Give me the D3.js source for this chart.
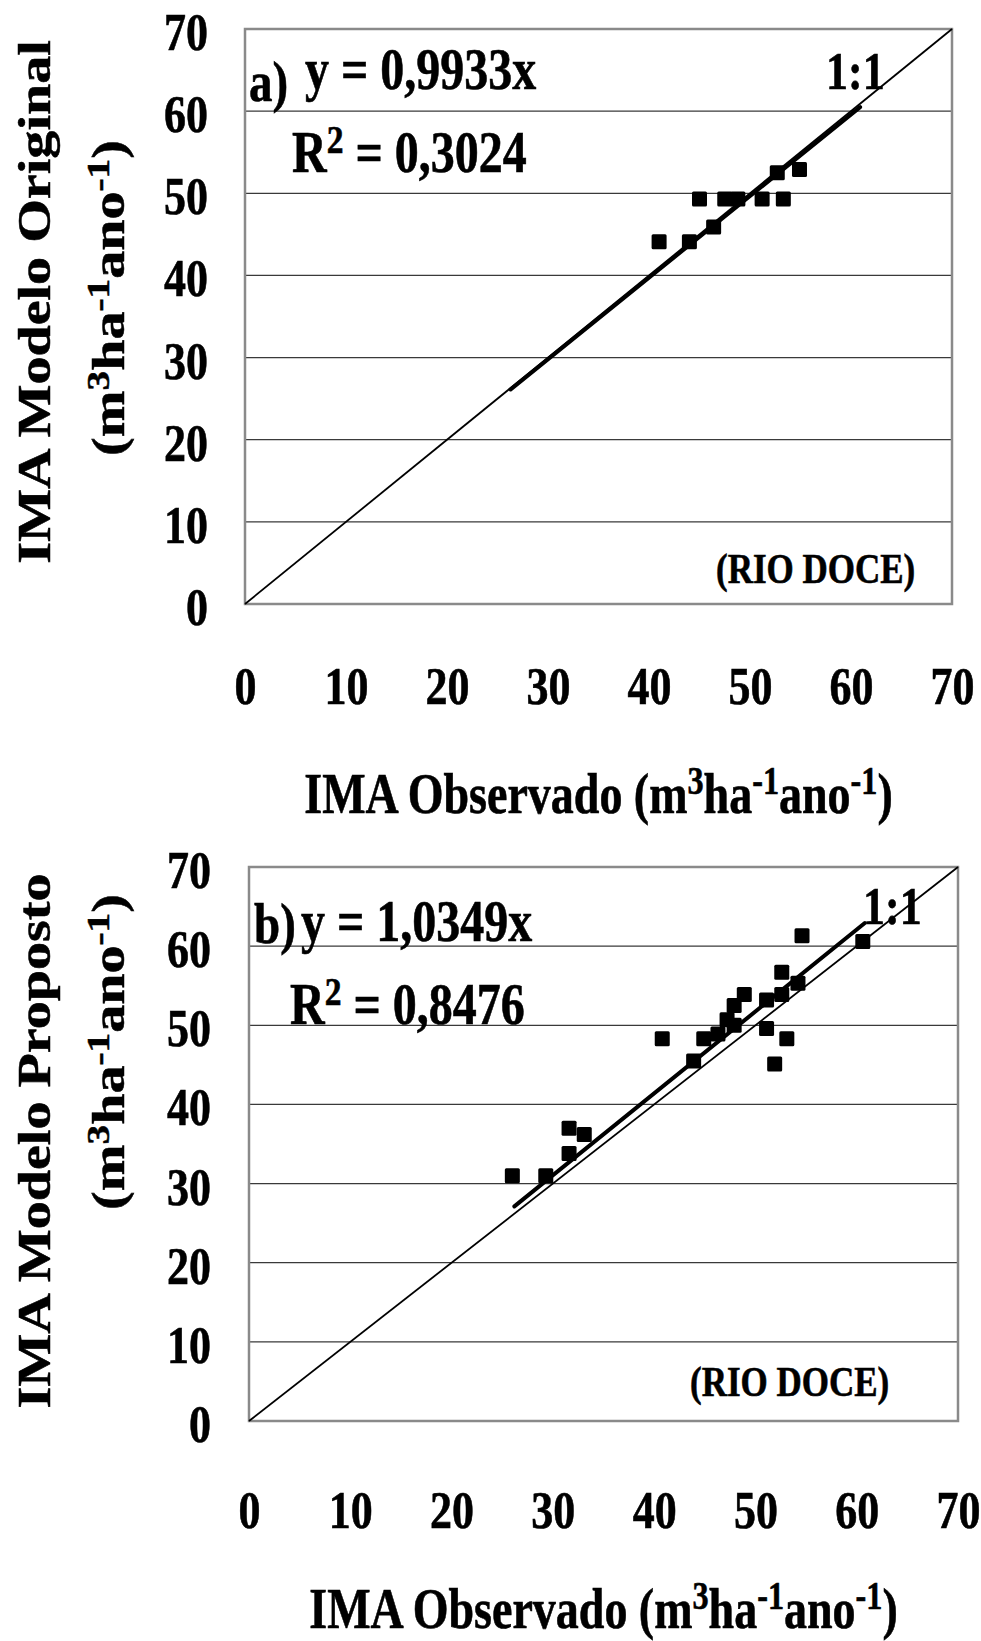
<!DOCTYPE html>
<html>
<head>
<meta charset="utf-8">
<script src="https://cdn.jsdelivr.net/npm/d3@7"></script>
<style>
  body { margin: 0; background: #fff; }
  svg text { font-family: "Liberation Serif", "Times New Roman", serif; font-weight: bold;
             stroke: #000; stroke-width: 0.5px; }
</style>
</head>
<body>
<div id="chart"></div>
<script>
// tick values, same on both axes of both panels
var ticks = [0, 10, 20, 30, 40, 50, 60, 70];

// a) Modelo Original x observado (Rio Doce)
var obsA  = [41.0, 44.0, 46.4, 45.0, 47.5, 48.8, 51.2, 53.3, 52.7, 54.9];
var predA = [44.1, 44.1, 45.9, 49.3, 49.3, 49.3, 49.3, 49.3, 52.5, 52.9];
var slopeA = 0.9933;
var r2A = "0,3024";
var trendA = [26.3, 60.9];

// b) Modelo Proposto x observado (Rio Doce)
var obsB  = [26.0, 29.3, 31.6, 33.1, 31.6, 40.8, 43.9, 44.9, 46.3, 47.2, 47.9,
             47.9, 48.9, 51.1, 51.1, 51.9, 53.1, 52.6, 52.6, 54.2, 54.6, 60.6];
var predB = [31.0, 31.0, 37.0, 36.2, 33.8, 48.3, 45.5, 48.3, 48.9, 50.7, 52.5,
             50.0, 53.9, 53.2, 49.6, 45.1, 48.3, 53.9, 56.7, 55.3, 61.3, 60.6];
var slopeB = 1.0349;
var r2B = "0,8476";
var trendB = [26.2, 60.8];

// the source picture is stretched vertically, so text looks tall and narrow
var K = 1.22;

var svg = d3.select("#chart").append("svg")
    .attr("width", 981)
    .attr("height", 1641);

// text placed at (x,y) with the vertical stretch, optionally rotated
function stretched(g, x, y, rotate) {
    return g.append("text")
        .attr("transform", "translate(" + x + "," + y + ") scale(1," + K + ")" + (rotate ? " rotate(-90)" : ""));
}

// parts: [text, isSuperscript] pairs
function addParts(text, parts, size) {
    var up = 0.33 * size;
    var raised = false;
    text.attr("font-size", size);
    parts.forEach(function(p) {
        var ts = text.append("tspan").text(p[0]);
        if (p[1]) {
            ts.attr("font-size", size * 0.7);
            if (!raised) ts.attr("dy", -up);
            raised = true;
        } else if (raised) {
            ts.attr("dy", up);
            raised = false;
        }
    });
    return text;
}

var unitParts = [["(m", 0], ["3", 1], ["ha", 0], ["-1", 1], ["ano", 0], ["-1", 1], [")", 0]];

function drawPanel(p) {
    var x = d3.scaleLinear().domain([0, 70]).range([p.left, p.right]);
    var y = d3.scaleLinear().domain([0, 70]).range([p.bottom, p.top]);
    var g = svg.append("g");

    // gridlines
    g.selectAll("line.grid")
        .data(ticks.slice(1, -1))
        .enter()
        .append("line")
        .attr("class", "grid")
        .attr("x1", p.left)
        .attr("x2", p.right)
        .attr("y1", function(d) { return y(d); })
        .attr("y2", function(d) { return y(d); })
        .attr("stroke", "#3a3a3a")
        .attr("stroke-width", 1.2);

    // frame
    g.append("rect")
        .attr("x", p.left)
        .attr("y", p.top)
        .attr("width", p.right - p.left)
        .attr("height", p.bottom - p.top)
        .attr("fill", "none")
        .attr("stroke", "#8a8a8a")
        .attr("stroke-width", 2.5);

    // 1:1 line
    g.append("line")
        .attr("x1", x(0)).attr("y1", y(0))
        .attr("x2", x(70)).attr("y2", y(70))
        .attr("stroke", "#000")
        .attr("stroke-width", 1.8);

    // fitted line y = b*x
    g.append("line")
        .attr("x1", x(p.trend[0])).attr("y1", y(p.slope * p.trend[0]))
        .attr("x2", x(p.trend[1])).attr("y2", y(p.slope * p.trend[1]))
        .attr("stroke", "#000")
        .attr("stroke-width", 4)
        .attr("stroke-linecap", "round");

    // points
    var s = 15;
    g.selectAll("rect.pt")
        .data(p.obs.map(function(d, i) { return [d, p.pred[i]]; }))
        .enter()
        .append("rect")
        .attr("class", "pt")
        .attr("x", function(d) { return x(d[0]) - s / 2; })
        .attr("y", function(d) { return y(d[1]) - s / 2; })
        .attr("width", s)
        .attr("height", s)
        .attr("rx", 1.5)
        .attr("fill", "#000");

    // x axis labels
    var xa = g.append("g")
        .attr("transform", "translate(0," + p.bottom + ")")
        .call(d3.axisBottom(x).tickValues(ticks).tickSize(0));
    xa.select(".domain").remove();
    xa.selectAll("text")
        .attr("y", null).attr("dy", null)
        .attr("font-size", 44)
        .attr("fill", "#000")
        .attr("transform", "translate(0," + p.xTickDy + ") scale(1," + K + ")");

    // y axis labels
    var ya = g.append("g")
        .attr("transform", "translate(" + p.left + ",0)")
        .call(d3.axisLeft(y).tickValues(ticks).tickSize(0));
    ya.select(".domain").remove();
    ya.selectAll("text")
        .attr("x", null).attr("dy", null)
        .attr("font-size", 44)
        .attr("fill", "#000")
        .attr("transform", "translate(" + (p.yTickX - p.left) + ",20.5) scale(1," + K + ")");

    // annotations
    stretched(g, p.tag[0], p.tag[1]).attr("font-size", 47).text(p.tagText);
    stretched(g, p.eq[0], p.eq[1]).attr("font-size", 48).text("y = " + p.eqText + "x");
    addParts(stretched(g, p.r2[0], p.r2[1]), [["R", 0], ["2", 1], [" = " + p.r2Text, 0]], 48);
    stretched(g, p.one[0], p.one[1]).attr("font-size", 44).text("1:1");
    stretched(g, p.rio[0], p.rio[1]).attr("font-size", 35).text("(RIO DOCE)");

    // axis titles
    addParts(stretched(g, (p.left + p.right) / 2, p.xTitleY).attr("text-anchor", "middle"),
        [["IMA Observado ", 0]].concat(unitParts), 46);
    stretched(g, 50, p.yTitle1, true)
        .attr("text-anchor", "middle")
        .attr("font-size", 46)
        .text(p.yName);
    addParts(stretched(g, 124, p.yTitle2, true).attr("text-anchor", "middle"), unitParts, 46);
}

drawPanel({
    left: 245, right: 952, top: 29, bottom: 604,
    obs: obsA, pred: predA, slope: slopeA, trend: trendA,
    xTickDy: 100, yTickX: 208,
    tagText: "a)", tag: [249, 101],
    eqText: "0,9933", eq: [305, 89],
    r2Text: r2A, r2: [292, 172],
    one: [826, 89], rio: [716, 583],
    xTitleY: 813,
    yName: "IMA Modelo Original", yTitle1: 302, yTitle2: 298
});

drawPanel({
    left: 249, right: 958, top: 867, bottom: 1421,
    obs: obsB, pred: predB, slope: slopeB, trend: trendB,
    xTickDy: 107, yTickX: 211,
    tagText: "b)", tag: [254, 943],
    eqText: "1,0349", eq: [301, 941],
    r2Text: r2B, r2: [290, 1024],
    one: [863, 924], rio: [690, 1396],
    xTitleY: 1628,
    yName: "IMA Modelo Proposto", yTitle1: 1141, yTitle2: 1052
});
</script>
</body>
</html>
